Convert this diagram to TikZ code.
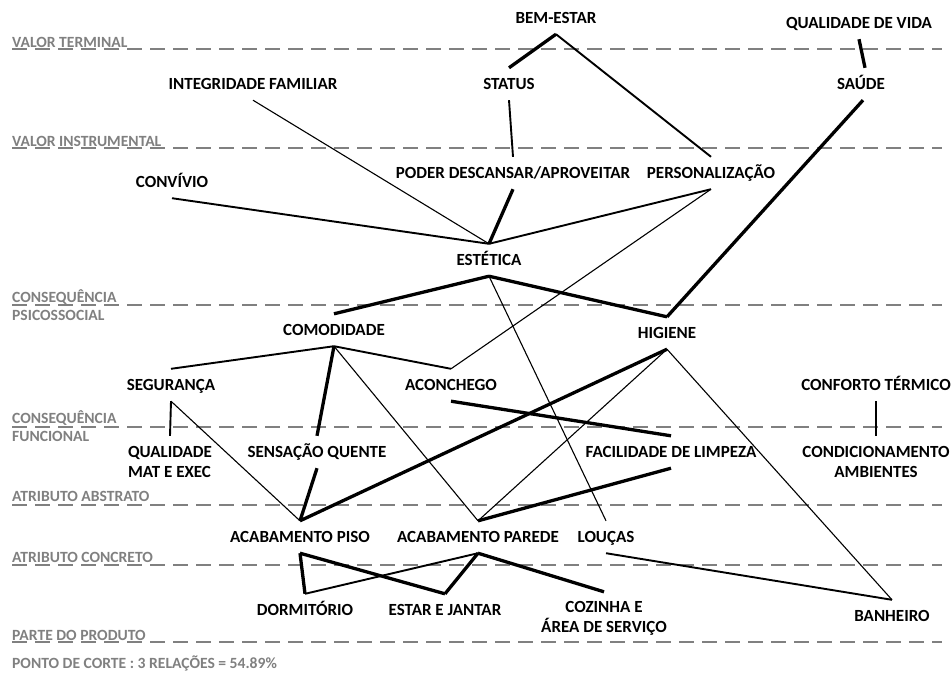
\documentclass[tikz,border=0pt]{standalone}
\usepackage{fontspec}
\setmainfont{Carlito}
\definecolor{layergray}{RGB}{128,128,128}
\begin{document}
\begin{tikzpicture}[x=1pt,y=-1pt,
  lbl/.style={font=\bfseries\fontsize{17}{20}\selectfont, inner sep=0pt,
    text height=11pt, text depth=0pt, minimum height=32pt},
  lbltwo/.style={font=\bfseries\fontsize{17}{20}\selectfont, inner sep=0pt,
    minimum height=52pt, align=center},
  layer/.style={font=\bfseries\fontsize{15.6}{18}\selectfont, text=layergray,
    inner sep=0pt, anchor=base west},
  sepline/.style={draw=layergray, line width=1.5pt, dash pattern=on 15pt off 8pt},
  wa/.style={draw=black, line width=1.1pt},
  wb/.style={draw=black, line width=1.9pt},
  wc/.style={draw=black, line width=3.3pt}
]
\useasboundingbox (0,0) rectangle (952,673);

% level separators
\foreach \yy in {49,148,305,427,505,565,642}
  \draw[sepline] (12,\yy) -- (942,\yy);

% level names
\node[layer] (lvt) at (12,47) {VALOR TERMINAL};
\node[layer] (lvi) at (12,146) {VALOR INSTRUMENTAL};
\node[layer] (lcpa) at (12,302) {CONSEQUÊNCIA};
\node[layer] (lcpb) at (12,320) {PSICOSSOCIAL};
\node[layer] (lcfa) at (12,423) {CONSEQUÊNCIA};
\node[layer] (lcfb) at (12,441) {FUNCIONAL};
\node[layer] (laa) at (12,501) {ATRIBUTO ABSTRATO};
\node[layer] (lac) at (12,562) {ATRIBUTO CONCRETO};
\node[layer] (lpp) at (12,640) {PARTE DO PRODUTO};
\node[layer] (lcut) at (12,668) {PONTO DE CORTE : 3 RELAÇÕES = 54.89\%};

% concepts
\node[lbl] (bem) at (556,18) {BEM-ESTAR};
\node[lbl] (qv) at (859,23) {QUALIDADE DE VIDA};
\node[lbl] (status) at (509,84) {STATUS};
\node[lbl] (saude) at (861,84) {SAÚDE};
\node[lbl] (integ) at (253,84) {INTEGRIDADE FAMILIAR};
\node[lbl] (convivio) at (172,182) {CONVÍVIO};
\node[lbl] (poder) at (513,173) {PODER DESCANSAR/APROVEITAR};
\node[lbl] (pers) at (711,173) {PERSONALIZAÇÃO};
\node[lbl] (estetica) at (489,260) {ESTÉTICA};
\node[lbl] (comod) at (334,330) {COMODIDADE};
\node[lbl] (hig) at (667,333) {HIGIENE};
\node[lbl] (seg) at (171,385) {SEGURANÇA};
\node[lbl] (acon) at (451,385) {ACONCHEGO};
\node[lbl] (conf) at (876,385) {CONFORTO TÉRMICO};
\node[lbltwo, align=left] (qual) at (170,462) {QUALIDADE\\MAT E EXEC};
\node[lbl] (sens) at (317,452) {SENSAÇÃO QUENTE};
\node[lbl] (facil) at (671,452) {FACILIDADE DE LIMPEZA};
\node[lbltwo] (cond) at (876,462) {CONDICIONAMENTO\\AMBIENTES};
\node[lbl] (piso) at (300,537) {ACABAMENTO PISO};
\node[lbl] (parede) at (478,537) {ACABAMENTO PAREDE};
\node[lbl] (loucas) at (606,537) {LOUÇAS};
\node[lbl] (dorm) at (305,610) {DORMITÓRIO};
\node[lbl] (estar) at (445,610) {ESTAR E JANTAR};
\node[lbltwo] (coz) at (604,618) {COZINHA E\\ÁREA DE SERVIÇO};
\node[lbl] (banh) at (892,616) {BANHEIRO};

% relations
\draw[wc] (bem.south) -- (status.north);
\draw[wb] (bem.south) -- (pers.north);
\draw[wc] (qv.south) -- ([xshift=4pt]saude.north);
\draw[wc] ([xshift=2pt]saude.south) -- (hig.north);
\draw[wb] (status.south) -- (poder.north);
\draw[wa] (integ.south) -- (estetica.north);
\draw[wb] (convivio.south) -- (estetica.north);
\draw[wc] (poder.south) -- (estetica.north);
\draw[wb] (pers.south) -- (estetica.north);
\draw[wa] (pers.south) -- (acon.north);
\draw[wc] (estetica.south) -- (comod.north);
\draw[wc] (estetica.south) -- (hig.north);
\draw[wa] (estetica.south) -- (loucas.north);
\draw[wb] (comod.south) -- (seg.north);
\draw[wb] (comod.south) -- (acon.north);
\draw[wc] (comod.south) -- (sens.north);
\draw[wa] (comod.south) -- (parede.north);
\draw[wb] (seg.south) -- (qual.north);
\draw[wa] (seg.south) -- (piso.north);
\draw[wc] (acon.south) -- (facil.north);
\draw[wc] (hig.south) -- (piso.north);
\draw[wa] (hig.south) -- (parede.north);
\draw[wa] (hig.south) -- (banh.north);
\draw[wa] (conf.south) -- (cond.north);
\draw[wc] (sens.south) -- (piso.north);
\draw[wc] (facil.south) -- (parede.north);
\draw[wc] (piso.south) -- (dorm.north);
\draw[wc] (piso.south) -- (estar.north);
\draw[wb] (parede.south) -- (dorm.north);
\draw[wc] (parede.south) -- (estar.north);
\draw[wc] (parede.south) -- (coz.north);
\draw[wb] (loucas.south) -- (banh.north);
\end{tikzpicture}
\end{document}
